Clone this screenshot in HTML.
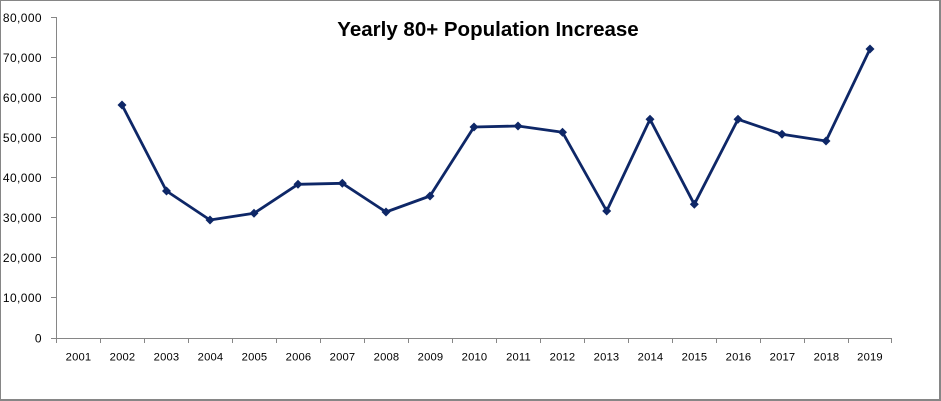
<!DOCTYPE html>
<html><head><meta charset="utf-8"><style>
html,body{margin:0;padding:0;background:#fff;}
svg{display:block;}
</style></head><body>
<svg width="941" height="401" viewBox="0 0 941 401" xmlns="http://www.w3.org/2000/svg">
<rect x="0" y="0" width="941" height="401" fill="#fff"/>
<!-- border -->
<line x1="0.5" y1="0" x2="0.5" y2="401" stroke="#868686" stroke-width="1"/>
<line x1="0" y1="0.5" x2="941" y2="0.5" stroke="#868686" stroke-width="1"/>
<line x1="940" y1="0" x2="940" y2="401" stroke="#868686" stroke-width="2"/>
<line x1="0" y1="400" x2="941" y2="400" stroke="#868686" stroke-width="2"/>

<text x="488" y="36" text-anchor="middle" font-family="Liberation Sans, sans-serif" font-weight="bold" font-size="20.5" fill="#000">Yearly 80+ Population Increase</text>

<!-- axes -->
<g stroke="#868686" stroke-width="1" fill="none">
<line x1="56.5" y1="17" x2="56.5" y2="343"/>
<line x1="51" y1="338.5" x2="892" y2="338.5"/>
<line x1="51" y1="17.5" x2="56.5" y2="17.5"/>
<line x1="51" y1="57.5" x2="56.5" y2="57.5"/>
<line x1="51" y1="97.5" x2="56.5" y2="97.5"/>
<line x1="51" y1="137.5" x2="56.5" y2="137.5"/>
<line x1="51" y1="177.5" x2="56.5" y2="177.5"/>
<line x1="51" y1="217.5" x2="56.5" y2="217.5"/>
<line x1="51" y1="257.5" x2="56.5" y2="257.5"/>
<line x1="51" y1="297.5" x2="56.5" y2="297.5"/>
<line x1="100.5" y1="338" x2="100.5" y2="343"/>
<line x1="144.5" y1="338" x2="144.5" y2="343"/>
<line x1="188.5" y1="338" x2="188.5" y2="343"/>
<line x1="232.5" y1="338" x2="232.5" y2="343"/>
<line x1="276.5" y1="338" x2="276.5" y2="343"/>
<line x1="320.5" y1="338" x2="320.5" y2="343"/>
<line x1="364.5" y1="338" x2="364.5" y2="343"/>
<line x1="408.5" y1="338" x2="408.5" y2="343"/>
<line x1="452.5" y1="338" x2="452.5" y2="343"/>
<line x1="496.5" y1="338" x2="496.5" y2="343"/>
<line x1="540.5" y1="338" x2="540.5" y2="343"/>
<line x1="584.5" y1="338" x2="584.5" y2="343"/>
<line x1="628.5" y1="338" x2="628.5" y2="343"/>
<line x1="672.5" y1="338" x2="672.5" y2="343"/>
<line x1="716.5" y1="338" x2="716.5" y2="343"/>
<line x1="760.5" y1="338" x2="760.5" y2="343"/>
<line x1="804.5" y1="338" x2="804.5" y2="343"/>
<line x1="848.5" y1="338" x2="848.5" y2="343"/>
<line x1="891.5" y1="338" x2="891.5" y2="343"/>
</g>

<g font-family="Liberation Sans, sans-serif" font-size="12" fill="#000" text-anchor="end" letter-spacing="0.4">
<text x="42" y="21.8">80,000</text>
<text x="42" y="61.8">70,000</text>
<text x="42" y="101.8">60,000</text>
<text x="42" y="141.8">50,000</text>
<text x="42" y="181.8">40,000</text>
<text x="42" y="221.8">30,000</text>
<text x="42" y="261.8">20,000</text>
<text x="42" y="301.8">10,000</text>
<text x="42" y="342.3">0</text>
</g>

<g font-family="Liberation Sans, sans-serif" font-size="11.2" fill="#000" text-anchor="middle" letter-spacing="0.2">
<text x="78.5" y="360.5">2001</text>
<text x="122.5" y="360.5">2002</text>
<text x="166.5" y="360.5">2003</text>
<text x="210.5" y="360.5">2004</text>
<text x="254.5" y="360.5">2005</text>
<text x="298.5" y="360.5">2006</text>
<text x="342.5" y="360.5">2007</text>
<text x="386.5" y="360.5">2008</text>
<text x="430.5" y="360.5">2009</text>
<text x="474.5" y="360.5">2010</text>
<text x="518.5" y="360.5">2011</text>
<text x="562.5" y="360.5">2012</text>
<text x="606.5" y="360.5">2013</text>
<text x="650.5" y="360.5">2014</text>
<text x="694.5" y="360.5">2015</text>
<text x="738.5" y="360.5">2016</text>
<text x="782.5" y="360.5">2017</text>
<text x="826.5" y="360.5">2018</text>
<text x="870" y="360.5">2019</text>
</g>

<polyline fill="none" stroke="#0e2767" stroke-width="2.8" stroke-linejoin="round"
points="122,105 166.5,191 210,220 254,213.3 298,184.3 342.3,183.3 386,212 430,196 474,127 518,126 562.5,132.3 606.7,211 650,119.3 694.3,204.3 738,119.3 782,134.3 826,141 870,49"/>

<g fill="#0e2767">
<polygon points="122,100.5 126.5,105 122,109.5 117.5,105"/>
<polygon points="166.5,186.5 171,191 166.5,195.5 162,191"/>
<polygon points="210,215.5 214.5,220 210,224.5 205.5,220"/>
<polygon points="254,208.8 258.5,213.3 254,217.8 249.5,213.3"/>
<polygon points="298,179.8 302.5,184.3 298,188.8 293.5,184.3"/>
<polygon points="342.3,178.8 346.8,183.3 342.3,187.8 337.8,183.3"/>
<polygon points="386,207.5 390.5,212 386,216.5 381.5,212"/>
<polygon points="430,191.5 434.5,196 430,200.5 425.5,196"/>
<polygon points="474,122.5 478.5,127 474,131.5 469.5,127"/>
<polygon points="518,121.5 522.5,126 518,130.5 513.5,126"/>
<polygon points="562.5,127.8 567,132.3 562.5,136.8 558,132.3"/>
<polygon points="606.7,206.5 611.2,211 606.7,215.5 602.2,211"/>
<polygon points="650,114.8 654.5,119.3 650,123.8 645.5,119.3"/>
<polygon points="694.3,199.8 698.8,204.3 694.3,208.8 689.8,204.3"/>
<polygon points="738,114.8 742.5,119.3 738,123.8 733.5,119.3"/>
<polygon points="782,129.8 786.5,134.3 782,138.8 777.5,134.3"/>
<polygon points="826,136.5 830.5,141 826,145.5 821.5,141"/>
<polygon points="870,44.5 874.5,49 870,53.5 865.5,49"/>
</g>
</svg>
</body></html>
